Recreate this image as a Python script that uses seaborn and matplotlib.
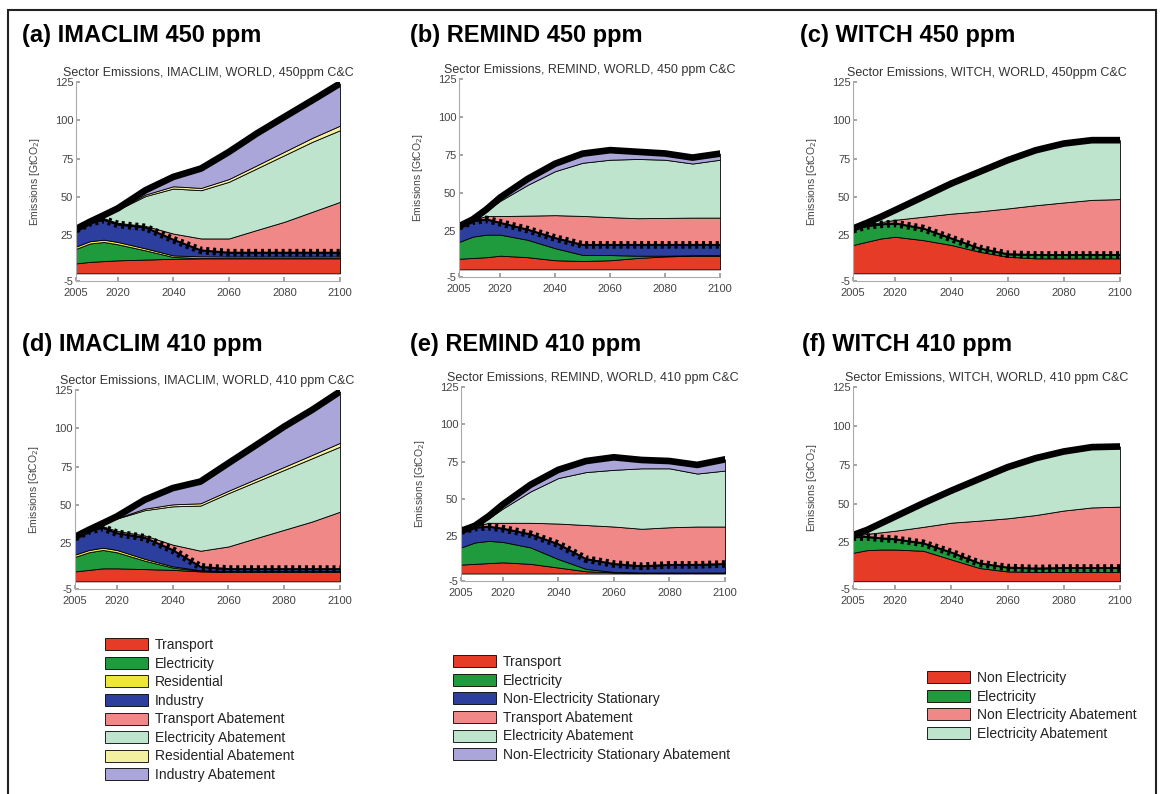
import matplotlib
matplotlib.use('Agg')
import matplotlib.pyplot as plt
import numpy as np
import seaborn as sns

sns.set_theme(style='white')
plt.rcParams['font.family'] = ['Liberation Sans', 'DejaVu Sans']
plt.rcParams['axes.unicode_minus'] = False

# ---- data (GtCO2) ----
years = [2005, 2010, 2015, 2020, 2030, 2040, 2050, 2060, 2070, 2080, 2090, 2100]

# IMACLIM 450 ppm
im450_transport = [6.5, 7.5, 8, 8.5, 9, 9.5, 9.8, 9.8, 9.8, 9.8, 9.8, 9.8]
im450_electricity = [9.5, 12, 12.5, 10.5, 6, 1.2, 0.3, 0.2, 0.2, 0.2, 0.2, 0.2]
im450_residential = [1.5, 1.5, 1.5, 1.5, 1.3, 1.0, 1, 1, 1, 1, 1, 1]
im450_industry = [11, 12, 13, 11.5, 13.7, 10.3, 3.9, 2.5, 2.5, 2.5, 2.5, 2.5]
im450_transport_ab = [0, 0.3, 1, 1, 1, 4, 7.8, 9.3, 14.8, 20.2, 26.7, 33.2]
im450_electricity_ab = [0.2, 0.1, 1.5, 8.5, 19.5, 29.4, 31.5, 37, 40.2, 43.5, 45.7, 46.8]
im450_residential_ab = [0, 0, 0.2, 0.3, 1, 1.5, 1.5, 1.8, 2, 2.3, 2.6, 3]
im450_industry_ab = [0.3, 0.3, 0.3, 0.6, 2.8, 6.1, 12.7, 17.7, 20.8, 22.7, 24.5, 27.5]

# IMACLIM 410 ppm
im410_transport = [6.5, 7.5, 8.5, 8.5, 8, 7.5, 6.5, 6.2, 6.2, 6.2, 6.2, 6.2]
im410_electricity = [9.5, 11.5, 12, 10.5, 5.5, 1.5, 0.3, 0.1, 0.1, 0.1, 0.1, 0.1]
im410_residential = [1.5, 1.5, 1.5, 1.5, 1.2, 0.8, 0.5, 0.4, 0.4, 0.4, 0.4, 0.4]
im410_industry = [11, 12.5, 13, 11, 13.8, 10.7, 2.2, 1.3, 1.3, 1.3, 1.3, 1.3]
im410_transport_ab = [0, 0.3, 1, 1.5, 1.5, 3.5, 10.5, 14.8, 20.3, 25.7, 31.1, 37.5]
im410_electricity_ab = [0.3, 0.2, 1.5, 8, 16.5, 25, 29.5, 34.8, 36.9, 39.1, 41.3, 42.5]
im410_residential_ab = [0, 0, 0.2, 0.3, 1, 1.3, 1.5, 1.6, 1.8, 2, 2.2, 2.5]
im410_industry_ab = [0.3, 0.2, 0.3, 1.1, 5.8, 10.6, 14.2, 18, 22.1, 26.3, 29.4, 33.5]

# REMIND 450 ppm
re450_transport = [7, 7.5, 8, 9, 8, 6, 5.5, 6, 7.5, 8.5, 9, 9]
re450_electricity = [11, 14, 14.8, 13.8, 11.4, 7.9, 4, 3.4, 1.5, 0.5, 0.3, 0.3]
re450_nonelec = [10, 10.1, 10, 7.8, 6.7, 6.7, 6.6, 6.7, 7.1, 7.1, 6.8, 6.8]
re450_transport_ab = [0.3, 1.2, 2.2, 4.4, 9.2, 15, 19, 18.2, 17.5, 17.7, 17.9, 17.9]
re450_electricity_ab = [0, 0, 3.5, 10, 20.2, 28.9, 34.9, 37.7, 38.9, 38.2, 35.5, 38]
re450_nonelec_ab = [0, 0, 0.9, 2.2, 3.9, 4.9, 6, 6.3, 4.7, 4.1, 3.9, 4]

# REMIND 410 ppm
re410_transport = [6, 6.5, 7, 7.5, 6.5, 4, 1.5, 0.8, 0.5, 0.5, 0.5, 0.5]
re410_electricity = [11.5, 14.3, 14.9, 13.7, 11, 5.7, 1.6, 0.3, 0.2, 0.2, 0.2, 0.2]
re410_nonelec = [11, 10, 9.5, 8.9, 8.8, 10, 6.6, 5.3, 4.2, 5.1, 5.1, 5.7]
re410_transport_ab = [0, 1.2, 2.6, 3.9, 7.7, 13.8, 22.8, 25.1, 25.1, 25.2, 25.7, 25.1]
re410_electricity_ab = [0, 0, 3, 9.5, 21, 30.5, 35.5, 38, 40.5, 39.5, 35.5, 37.5]
re410_nonelec_ab = [0, 0, 1.5, 2.7, 4.5, 5.5, 7.4, 8.4, 5.6, 4.9, 5.8, 7.5]

# WITCH 450 ppm
wi450_nonelec = [18.5, 20.7, 22.8, 23.9, 21.7, 18.5, 14.1, 10.9, 9.8, 9.8, 9.8, 9.8]
wi450_electricity = [10, 10.3, 9.2, 8.7, 7.6, 4.3, 2.2, 1.6, 2.2, 2.2, 2.2, 2.2]
wi450_nonelec_ab = [0.5, 0.5, 1.5, 2.4, 7.7, 16.2, 24.2, 29.9, 32.5, 34.3, 36, 36.5]
wi450_electricity_ab = [0.3, 1.5, 3.5, 6.3, 13, 19.7, 25.8, 31.5, 35.9, 38.5, 39, 38.5]

# WITCH 410 ppm
wi410_nonelec = [18.3, 20, 20.4, 20.4, 19.6, 14, 8.5, 6.3, 6, 6, 6, 6]
wi410_electricity = [10, 8.5, 7.2, 6.6, 4.8, 4.5, 3, 2.5, 2.2, 2.5, 2.5, 2.5]
wi410_nonelec_ab = [0.7, 2, 3.9, 5.5, 10.6, 19.2, 27.5, 31.7, 34.4, 37, 39, 39.5]
wi410_electricity_ab = [0.7, 2.5, 5.8, 9.1, 15.2, 20.6, 26.9, 32.9, 36.6, 38, 38.8, 38.7]

imaclim_labels = ['Transport', 'Electricity', 'Residential', 'Industry',
                  'Transport Abatement', 'Electricity Abatement',
                  'Residential Abatement', 'Industry Abatement']
remind_labels = ['Transport', 'Electricity', 'Non-Electricity Stationary',
                 'Transport Abatement', 'Electricity Abatement',
                 'Non-Electricity Stationary Abatement']
witch_labels = ['Non Electricity', 'Electricity', 'Non Electricity Abatement',
                'Electricity Abatement']

RED, GREEN, YEL, BLUE = '#e63b27', '#1f9b3d', '#efe63a', '#2c3f9f'
PINK, LGREEN, LYEL, LAV = '#f08888', '#bfe4cd', '#f3f09f', '#aba6d9'
imaclim_colors = [RED, GREEN, YEL, BLUE, PINK, LGREEN, LYEL, LAV]
remind_colors = [RED, GREEN, BLUE, PINK, LGREEN, LAV]
witch_colors = [RED, GREEN, PINK, LGREEN]

W, H = 1161, 794
fig = plt.figure(figsize=(W / 100, H / 100), dpi=100)
fig.patch.set_facecolor('white')


def add_ax(l, r, t, b):
    return fig.add_axes([l / W, 1 - b / H, (r - l) / W, (b - t) / H])


def draw_panel(ax, layers, n_emit, colors, subtitle):
    polys = ax.stackplot(years, *layers, colors=colors, edgecolor='black', linewidth=0.6)
    total = np.sum(layers[:n_emit], axis=0)
    baseline = np.sum(layers, axis=0)
    # actual emissions (crossed black line)
    ax.plot(years, total, color='black', lw=1.4)
    ax.plot(years, total, color='black', lw=5.5, ls=(0, (0.4, 0.5)))
    # baseline emissions (thick black line)
    sns.lineplot(x=years, y=baseline, ax=ax, color='black', lw=4.8)
    ax.set_xlim(2005, 2100)
    ax.set_ylim(-5, 125)
    ax.set_xticks([2005, 2020, 2040, 2060, 2080, 2100])
    ax.set_yticks([-5, 25, 50, 75, 100, 125])
    for s in ['top', 'right']:
        ax.spines[s].set_visible(False)
    for s in ['left', 'bottom']:
        ax.spines[s].set_color('#aaaaaa')
        ax.spines[s].set_linewidth(0.8)
    ax.tick_params(direction='in', length=3, color='#999999', labelsize=8,
                   labelcolor='#444444', left=True, bottom=True)
    ax.tick_params(axis='x', pad=5)
    ax.tick_params(axis='y', pad=2)
    ax.set_ylabel('Emissions [GtCO$_2$]', fontsize=7.5, color='#444444', labelpad=9)
    ax.set_title(subtitle, fontsize=9, color='#333333', pad=4)
    ax.set_facecolor('white')
    return polys


panels = [
    ('(a) IMACLIM 450 ppm', 'Sector Emissions, IMACLIM, WORLD, 450ppm C&C',
     [im450_transport, im450_electricity, im450_residential, im450_industry,
      im450_transport_ab, im450_electricity_ab, im450_residential_ab, im450_industry_ab],
     4, imaclim_colors, (76, 340, 82, 281), (22, 42)),
    ('(b) REMIND 450 ppm', 'Sector Emissions, REMIND, WORLD, 450 ppm C&C',
     [re450_transport, re450_electricity, re450_nonelec,
      re450_transport_ab, re450_electricity_ab, re450_nonelec_ab],
     3, remind_colors, (459, 720, 79, 277), (410, 42)),
    ('(c) WITCH 450 ppm', 'Sector Emissions, WITCH, WORLD, 450ppm C&C',
     [wi450_nonelec, wi450_electricity, wi450_nonelec_ab, wi450_electricity_ab],
     2, witch_colors, (853, 1120, 82, 281), (800, 42)),
    ('(d) IMACLIM 410 ppm', 'Sector Emissions, IMACLIM, WORLD, 410 ppm C&C',
     [im410_transport, im410_electricity, im410_residential, im410_industry,
      im410_transport_ab, im410_electricity_ab, im410_residential_ab, im410_industry_ab],
     4, imaclim_colors, (75, 340, 390, 589), (22, 351)),
    ('(e) REMIND 410 ppm', 'Sector Emissions, REMIND, WORLD, 410 ppm C&C',
     [re410_transport, re410_electricity, re410_nonelec,
      re410_transport_ab, re410_electricity_ab, re410_nonelec_ab],
     3, remind_colors, (461, 725, 387, 581), (410, 351)),
    ('(f) WITCH 410 ppm', 'Sector Emissions, WITCH, WORLD, 410 ppm C&C',
     [wi410_nonelec, wi410_electricity, wi410_nonelec_ab, wi410_electricity_ab],
     2, witch_colors, (853, 1120, 387, 589), (802, 351)),
]

handles = []
for title, sub, layers, n_emit, colors, box, tpos in panels:
    ax = add_ax(*box)
    polys = draw_panel(ax, layers, n_emit, colors, sub)
    handles.append(polys)
    fig.text(tpos[0] / W, 1 - tpos[1] / H, title, fontsize=17, fontweight='bold',
             color='black', va='baseline', ha='left')

# legends under the bottom row
leg_kw = dict(loc='upper left', frameon=False, fontsize=10, handlelength=3.1,
              handleheight=0.95, labelspacing=0.33, handletextpad=0.5,
              borderpad=0, borderaxespad=0, labelcolor='#222222')
fig.legend(handles[3], imaclim_labels, bbox_to_anchor=(105 / W, 1 - 638 / H), **leg_kw)
fig.legend(handles[4], remind_labels, bbox_to_anchor=(453 / W, 1 - 655 / H), **leg_kw)
fig.legend(handles[5], witch_labels, bbox_to_anchor=(927 / W, 1 - 671 / H), **leg_kw)

# outer frame
fig.add_artist(plt.Rectangle((8 / W, -0.02), (1156 - 8) / W, 1 - 10 / H + 0.02,
                             transform=fig.transFigure, fill=False, lw=1.5,
                             edgecolor='#222222'))

fig.savefig('out.png', dpi=100)
